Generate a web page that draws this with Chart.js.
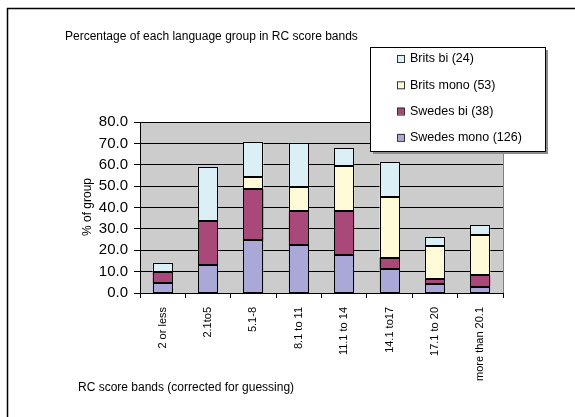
<!DOCTYPE html>
<html>
<head>
<meta charset="utf-8">
<script src="https://cdn.jsdelivr.net/npm/chart.js@4"></script>
<style>
  body { margin: 0; background: #fff; }
  #wrap { width: 575px; height: 417px; }
</style>
</head>
<body>
<div id="wrap"><canvas id="chart" width="575" height="417"></canvas></div>
<script>
// Score bands and the % of each language group in each band
const bands = ['2 or less', '2.1to5', '5.1-8', '8.1 to 11', '11.1 to 14', '14.1 to17', '17.1 to 20', 'more than 20.1'];
const swedesMono = [4.7, 13.0, 24.6, 22.4, 17.6, 11.1, 4.2, 3.0];
const swedesBi   = [5.2, 20.6, 23.9, 15.9, 20.7, 5.5, 2.2, 5.2];
const britsMono  = [0.0, 0.0, 5.8, 11.3, 21.2, 28.3, 15.6, 18.9];
const britsBi    = [4.2, 25.2, 16.4, 20.7, 8.3, 16.4, 4.2, 4.7];
const yTicks = [0, 10, 20, 30, 40, 50, 60, 70, 80];

const seriesNames = ['Swedes mono (126)', 'Swedes bi (38)', 'Brits mono (53)', 'Brits bi (24)'];
const seriesColors = ['#aaa8d6', '#a8497a', '#fffad8', '#daf0f6'];
const seriesData = [swedesMono, swedesBi, britsMono, britsBi];

const FONT = 'Arial, "Liberation Sans", sans-serif';

// crisp black outline round every bar segment, taken from the bar elements
const outlinePlugin = {
    id: 'outline',
    afterDatasetsDraw(chart) {
        const ctx = chart.ctx;
        ctx.save();
        ctx.strokeStyle = '#000';
        ctx.lineWidth = 1;
        chart.data.datasets.forEach((ds, i) => {
            chart.getDatasetMeta(i).data.forEach(el => {
                const { x, y, base, width } = el.getProps(['x', 'y', 'base', 'width'], true);
                if (Math.abs(base - y) < 0.5) return;
                const l = Math.round(x - width / 2) + 0.5;
                const r = Math.round(x + width / 2) - 0.5;
                const t = Math.round(Math.min(y, base)) + 0.5;
                const b = Math.round(Math.max(y, base)) - 0.5;
                ctx.strokeRect(l, t, r - l, b - t);
            });
        });
        ctx.restore();
    }
};

// background, frame, titles and the boxed legend are drawn by hand
const decorPlugin = {
    id: 'decor',
    beforeDraw(chart) {
        const { ctx, chartArea: a } = chart;
        ctx.save();
        ctx.fillStyle = '#cccccc';
        ctx.fillRect(a.left, a.top, a.right - a.left, a.bottom - a.top);
        ctx.restore();
    },
    afterDraw(chart) {
        const { ctx, chartArea: a } = chart;
        ctx.save();

        // right edge of plot area
        ctx.strokeStyle = '#808080';
        ctx.lineWidth = 1;
        ctx.beginPath();
        ctx.moveTo(a.right + 0.5, a.top);
        ctx.lineTo(a.right + 0.5, a.bottom);
        ctx.stroke();

        // outer chart border (runs off right / bottom)
        ctx.strokeStyle = '#000';
        ctx.lineWidth = 1.5;
        ctx.beginPath();
        ctx.moveTo(7.5, 417);
        ctx.lineTo(7.5, 8.5);
        ctx.lineTo(575, 8.5);
        ctx.stroke();

        ctx.fillStyle = '#000';
        ctx.textBaseline = 'middle';
        ctx.textAlign = 'left';
        ctx.font = '12px ' + FONT;
        ctx.fillText('Percentage of each language group in RC score bands', 65, 37);
        ctx.fillText('RC score bands (corrected for guessing)', 78, 388);

        ctx.save();
        ctx.translate(88, 207);
        ctx.rotate(-Math.PI / 2);
        ctx.textAlign = 'center';
        ctx.fillText('% of group', 0, 0);
        ctx.restore();

        // legend box with shadow
        const lx = 370, ly = 47, lw = 175, lh = 104;
        ctx.fillStyle = '#8c8c8c';
        ctx.fillRect(lx + 3, ly + 3, lw, lh);
        ctx.fillStyle = '#fff';
        ctx.fillRect(lx, ly, lw, lh);
        ctx.strokeStyle = '#000';
        ctx.lineWidth = 1;
        ctx.strokeRect(lx + 0.5, ly + 0.5, lw, lh);

        ctx.font = '12.5px ' + FONT;
        for (let i = 0; i < 4; i++) {
            const k = 3 - i;
            const cy = 58 + i * 26.3;
            ctx.fillStyle = seriesColors[k];
            ctx.fillRect(397, cy - 3, 7, 7);
            ctx.strokeStyle = '#333';
            ctx.strokeRect(397.5, cy - 2.5, 7, 7);
            ctx.fillStyle = '#000';
            ctx.fillText(seriesNames[k], 410, cy + 1);
        }
        ctx.restore();
    }
};

new Chart(document.getElementById('chart'), {
    type: 'bar',
    data: {
        labels: bands,
        datasets: seriesData.map((d, i) => ({
            label: seriesNames[i],
            data: d,
            backgroundColor: seriesColors[i],
            borderWidth: 0,
            inflateAmount: 0,
            barPercentage: 0.44,
            categoryPercentage: 1
        }))
    },
    options: {
        responsive: false,
        animation: false,
        devicePixelRatio: 1,
        layout: { padding: { top: 122, right: 72, left: 0, bottom: 0 } },
        plugins: {
            legend: { display: false },
            title: { display: false },
            tooltip: { enabled: false }
        },
        scales: {
            x: {
                stacked: true,
                afterFit: s => { s.height = 124; },
                grid: {
                    drawOnChartArea: false,
                    drawTicks: true,
                    tickLength: 5,
                    color: '#000',
                    offset: true
                },
                border: { color: '#000', width: 1 },
                ticks: {
                    color: '#000',
                    font: { family: FONT, size: 11 },
                    maxRotation: 90,
                    minRotation: 90,
                    padding: 9,
                    autoSkip: false
                }
            },
            y: {
                stacked: true,
                min: yTicks[0],
                max: yTicks[yTicks.length - 1],
                afterFit: s => { s.width = 140; },
                afterBuildTicks: s => { s.ticks = yTicks.map(v => ({ value: v })); },
                grid: {
                    color: '#000',
                    drawTicks: true,
                    tickLength: 6
                },
                border: { color: '#000', width: 1 },
                ticks: {
                    color: '#000',
                    font: { family: FONT, size: 15 },
                    padding: 6,
                    callback: v => Number(v).toFixed(1)
                }
            }
        }
    },
    plugins: [outlinePlugin, decorPlugin]
});
</script>
</body>
</html>
